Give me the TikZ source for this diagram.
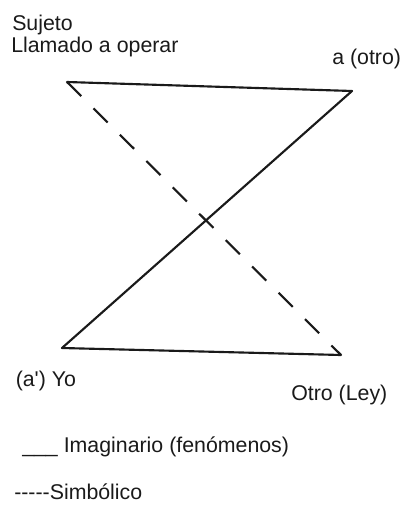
\documentclass[tikz,border=0pt]{standalone}
\usepackage{fontspec}
\setmainfont{Liberation Sans}
\usepackage{xcolor}
\definecolor{inkgray}{HTML}{1A1A1A}

\begin{document}
\begin{tikzpicture}[x=0.75pt,y=-0.75pt,
    every node/.style={font=\fontsize{16}{19}\selectfont,inner sep=0pt,anchor=base west,text=inkgray},
    imaginario/.style={draw=inkgray,line width=1.6pt,line cap=round},
    simbolico/.style={draw=inkgray,line width=1.6pt,dash pattern=on 15pt off 13pt}]
  \useasboundingbox (0,0) rectangle (407,513);
  % vertices of the schema
  \coordinate (sujeto) at (67,82);
  \coordinate (otroa) at (352,91);
  \coordinate (yo) at (62,348);
  \coordinate (ley) at (341,355);
  % labels
  \node (lsujeto) at (12,31) {Sujeto};
  \node (lllamado) at (11,53) {Llamado a operar};
  \node (lotroa) at (332,65) {a (otro)};
  \node (lyo) at (15.5,386) {(a\textquotesingle) Yo};
  \node (lley) at (291,400) {Otro (Ley)};
  % relations
  \draw[imaginario] (sujeto) -- (otroa);
  \draw[imaginario] (otroa) -- (yo);
  \draw[imaginario] (yo) -- (ley);
  \draw[simbolico] (sujeto) -- (ley);
  % legend
  \node (limag) at (22,452) {\_\_\_ Imaginario (fenómenos)};
  \node (lsimb) at (14,499) {-{}-{}-{}-{}-Simbólico};
\end{tikzpicture}
\end{document}
